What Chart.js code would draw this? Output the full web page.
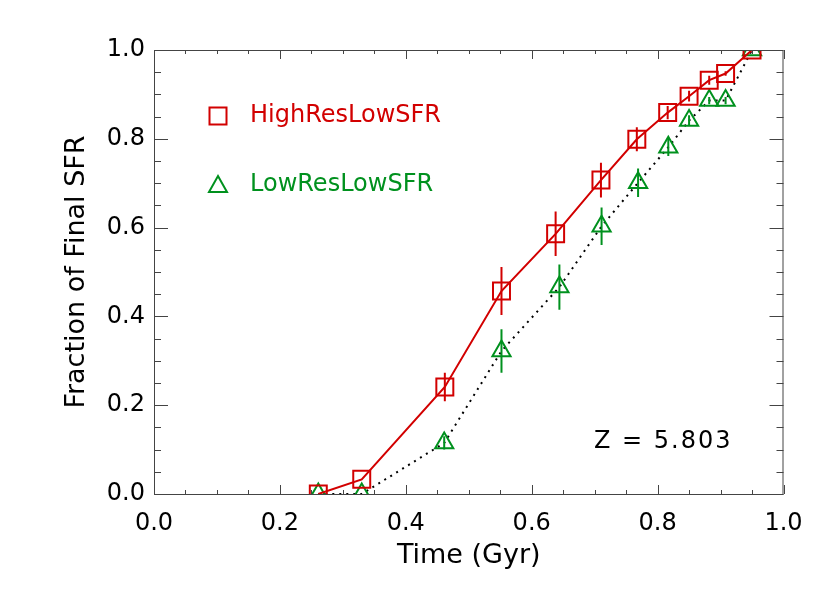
<!DOCTYPE html>
<html>
<head>
<meta charset="utf-8">
<script src="https://cdn.jsdelivr.net/npm/chart.js@4"></script>
<style>
  html, body { margin: 0; padding: 0; background: #fff; }
  #wrap { width: 830px; height: 593px; }
</style>
</head>
<body>
<div id="wrap"><canvas id="sfrChart" width="830" height="593"></canvas></div>
<script>
// times (Gyr) and fraction of final SFR
const timeHigh = [0.261, 0.330, 0.462, 0.552, 0.638, 0.710, 0.767, 0.816, 0.850, 0.882, 0.908, 0.950];
const fracHigh = [0.0, 0.033, 0.241, 0.457, 0.586, 0.707, 0.799, 0.859, 0.896, 0.932, 0.947, 1.0];
const errHigh = [0, 0, 0.032, 0.054, 0.050, 0.039, 0.027, 0.015, 0.012, 0.010, 0.005, 0];

const timeLow = [0.261, 0.330, 0.461, 0.552, 0.644, 0.711, 0.769, 0.817, 0.850, 0.882, 0.908, 0.950];
const fracLow = [0.0, 0.0, 0.115, 0.322, 0.466, 0.603, 0.701, 0.781, 0.841, 0.886, 0.886, 1.0];
const errLow = [0, 0, 0.015, 0.049, 0.051, 0.042, 0.032, 0.020, 0.012, 0.008, 0.008, 0];

const seriesNames = ['HighResLowSFR', 'LowResLowSFR'];
const redshiftLabel = 'Z = 5.803';

const RED = 'rgb(210,0,0)';
const GREEN = 'rgb(0,145,30)';
const FONT = "'DejaVu Sans', sans-serif";

function toPoints(xs, ys) {
  return xs.map((x, i) => ({x: x, y: ys[i]}));
}

// frame + inward ticks on all four sides, like the IDL box
const boxTicks = {
  id: 'boxTicks',
  afterDraw(chart) {
    const {ctx, chartArea: a, scales} = chart;
    ctx.save();
    ctx.strokeStyle = '#444';
    ctx.lineWidth = 1;
    ctx.strokeRect(a.left + 0.5, a.top + 0.5, a.right - a.left - 1, a.bottom - a.top);
    const drawAxis = (scale, majorLen, minorLen) => {
      const vals = scale.ticks.map((t) => t.value);
      const marks = [];
      vals.forEach((v, i) => {
        marks.push([v, majorLen]);
        if (i < vals.length - 1) {
          const step = (vals[i + 1] - v) / 4;
          for (let k = 1; k < 4; k++) marks.push([v + k * step, minorLen]);
        }
      });
      ctx.beginPath();
      marks.forEach(([v, len]) => {
        const p = Math.round(scale.getPixelForValue(v)) + 0.5;
        if (scale.isHorizontal()) {
          ctx.moveTo(p, a.bottom); ctx.lineTo(p, a.bottom - len);
          ctx.moveTo(p, a.top); ctx.lineTo(p, a.top + len);
        } else {
          ctx.moveTo(a.left, p); ctx.lineTo(a.left + len, p);
          ctx.moveTo(a.right, p); ctx.lineTo(a.right - len, p);
        }
      });
      ctx.stroke();
    };
    drawAxis(scales.x, 9, 4);
    drawAxis(scales.y, 14, 7);
    ctx.restore();
  },
};

// vertical error bars
const errorBars = {
  id: 'errorBars',
  afterDatasetsDraw(chart) {
    const {ctx, scales} = chart;
    ctx.save();
    ctx.lineWidth = 2;
    chart.data.datasets.forEach((ds) => {
      if (!ds.errors) return;
      ctx.strokeStyle = ds.pointBorderColor;
      ctx.beginPath();
      ds.data.forEach((pt, i) => {
        const e = ds.errors[i];
        if (!e) return;
        const px = scales.x.getPixelForValue(pt.x);
        ctx.moveTo(px, scales.y.getPixelForValue(pt.y - e));
        ctx.lineTo(px, scales.y.getPixelForValue(pt.y + e));
      });
      ctx.stroke();
    });
    ctx.restore();
  },
};

// legend inside the plot + redshift label
const inPlotText = {
  id: 'inPlotText',
  afterDraw(chart) {
    const {ctx, chartArea: a, scales} = chart;
    ctx.save();
    ctx.font = '24px ' + FONT;
    ctx.textBaseline = 'middle';
    ctx.lineWidth = 2;
    const sx = a.left + 64;
    const rows = [a.top + 66, a.top + 135];
    // square
    ctx.strokeStyle = RED;
    ctx.strokeRect(sx - 8.5, rows[0] - 8.5, 17, 17);
    ctx.fillStyle = RED;
    ctx.textAlign = 'left';
    ctx.fillText(seriesNames[0], a.left + 96, rows[0]);
    // triangle
    ctx.strokeStyle = GREEN;
    ctx.beginPath();
    ctx.moveTo(sx, rows[1] - 9);
    ctx.lineTo(sx + 9, rows[1] + 7);
    ctx.lineTo(sx - 9, rows[1] + 7);
    ctx.closePath();
    ctx.stroke();
    ctx.fillStyle = GREEN;
    ctx.fillText(seriesNames[1], a.left + 96, rows[1]);
    // redshift
    ctx.fillStyle = '#000';
    ctx.textAlign = 'center';
    ctx.letterSpacing = '2px';
    ctx.fillText(redshiftLabel, scales.x.getPixelForValue(0.809), scales.y.getPixelForValue(0.117));
    ctx.restore();
  },
};

const ctx = document.getElementById('sfrChart');
new Chart(ctx, {
  type: 'scatter',
  data: {
    datasets: [{
      label: seriesNames[0],
      data: toPoints(timeHigh, fracHigh),
      errors: errHigh,
      showLine: true,
      borderColor: RED,
      borderWidth: 2,
      pointStyle: 'rect',
      pointRadius: 12,
      pointHoverRadius: 12,
      pointBorderWidth: 2,
      pointBorderColor: RED,
      pointBackgroundColor: 'rgba(0,0,0,0)',
    }, {
      label: seriesNames[1],
      data: toPoints(timeLow, fracLow),
      errors: errLow,
      showLine: true,
      borderColor: '#000',
      borderWidth: 2,
      borderDash: [2, 5],
      pointStyle: 'triangle',
      pointRadius: 10.5,
      pointHoverRadius: 10.5,
      pointBorderWidth: 2,
      pointBorderColor: GREEN,
      pointBackgroundColor: 'rgba(0,0,0,0)',
    }],
  },
  options: {
    responsive: false,
    animation: false,
    events: [],
    layout: {
      padding: {left: 54, right: 46.5, top: 50, bottom: 10},
    },
    plugins: {
      legend: {display: false},
      tooltip: {enabled: false},
    },
    scales: {
      x: {
        type: 'linear',
        min: 0,
        max: 1,
        grid: {display: false, drawTicks: false},
        border: {display: false},
        ticks: {
          stepSize: 0.2,
          padding: 15,
          color: '#000',
          font: {family: FONT, size: 24},
          callback: (v) => v.toFixed(1),
        },
        title: {
          display: true,
          text: 'Time (Gyr)',
          color: '#000',
          font: {family: FONT, size: 27},
          padding: {top: 0, bottom: 11},
        },
        afterFit: (scale) => { scale.height = 89; },
      },
      y: {
        type: 'linear',
        min: 0,
        max: 1,
        grid: {display: false, drawTicks: false},
        border: {display: false},
        ticks: {
          stepSize: 0.2,
          padding: 9,
          color: '#000',
          font: {family: FONT, size: 24},
          callback: (v) => v.toFixed(1),
        },
        title: {
          display: true,
          text: 'Fraction of Final SFR',
          color: '#000',
          font: {family: FONT, size: 27},
          padding: {top: 7, bottom: 0},
        },
        afterFit: (scale) => { scale.width = 100; },
      },
    },
  },
  plugins: [boxTicks, errorBars, inPlotText],
});
</script>
</body>
</html>
